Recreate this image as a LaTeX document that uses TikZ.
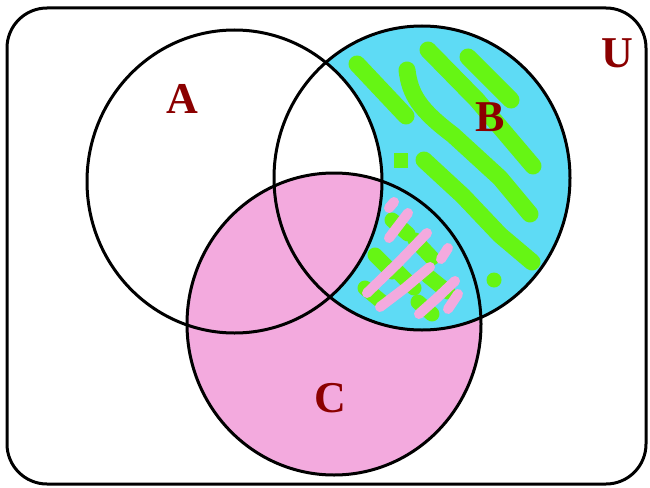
\documentclass[tikz,border=0pt]{standalone}
\usepackage{fontspec}
\setmainfont{Liberation Serif}
\definecolor{bcyan}{RGB}{94,219,245}
\definecolor{cpink}{RGB}{243,170,222}
\definecolor{sgreen}{RGB}{102,245,20}
\definecolor{lbl}{RGB}{139,0,0}
\begin{document}
\begin{tikzpicture}[x=1pt,y=-1pt,
  outline/.style={line width=3pt,draw=black},
  gstreak/.style={draw=sgreen,line width=17pt,line cap=round,line join=round},
  hgreen/.style={draw=sgreen,line width=15pt,line cap=round},
  pstreak/.style={draw=cpink,line width=10pt,line cap=round,line join=round},
  setlabel/.style={text=lbl,font=\fontsize{44}{44}\selectfont\bfseries,inner sep=0pt}]
\useasboundingbox (0,0) rectangle (650,487);
\coordinate (cA) at (234.5,181.5);
\coordinate (cB) at (422,178);
\coordinate (cC) at (334,324);
% C pink
\fill[cpink] (cC) ellipse [x radius=147pt, y radius=151pt];
% B cyan
\fill[bcyan] (cB) ellipse [x radius=148pt, y radius=152pt];
\begin{scope}
  \clip (cB) ellipse [x radius=148pt, y radius=152pt];
  % green streaks in B
  \draw[gstreak] (357,64) -- (406,116);
  \draw[gstreak] (407,70) .. controls (410,95) and (420,110) .. (453,135) -- (500,178) -- (530,214);
  \draw[gstreak] (428,50) -- (477,100) -- (533,166);
  \draw[gstreak] (468,57) -- (511,100);
  \draw[gstreak] (424,160) -- (463,196) -- (500,235) -- (532,262);
  \fill[sgreen] (394,153) rectangle (408,168);
  \fill[sgreen] (494,280) circle [radius=7.5pt];
  \begin{scope}
    \clip (cC) ellipse [x radius=147pt, y radius=151pt];
    % hatch: green blobs
    \draw[hgreen] (392,220) -- (408,234);
    \draw[hgreen] (415,240) -- (432,258);
    \draw[hgreen] (375,255) -- (392,272);
    \draw[hgreen] (396,270) -- (414,288);
    \draw[hgreen] (428,276) -- (448,292);
    \draw[hgreen] (365,288) -- (382,302);
    \draw[hgreen] (418,302) -- (432,314);
    % pink streaks
    \draw[pstreak] (389,208) -- (394,202);
    \draw[pstreak] (408,213) -- (389,238);
    \draw[pstreak] (427,233) -- (398,263) -- (367,293);
    \draw[pstreak] (448,248) -- (441,259);
    \draw[pstreak] (430,267) -- (405,288) -- (380,307);
    \draw[pstreak] (455,281) -- (437,298) -- (419,314);
    \draw[pstreak] (458,294) -- (448,309);
  \end{scope}
  % A inside B: white, with A∩B∩C pink
  \fill[white] (cA) ellipse [x radius=147.5pt, y radius=151.5pt];
  \clip (cA) ellipse [x radius=147.5pt, y radius=151.5pt];
  \fill[cpink] (cC) ellipse [x radius=147pt, y radius=151pt];
\end{scope}
% outlines
\draw[outline] (cA) ellipse [x radius=147.5pt, y radius=151.5pt];
\draw[outline] (cB) ellipse [x radius=148pt, y radius=152pt];
\draw[outline] (cC) ellipse [x radius=147pt, y radius=151pt];
\draw[outline, rounded corners=40pt] (7,8) rectangle (646,484);
% labels
\node[setlabel] (lA) at (182,99) {A};
\node[setlabel] (lB) at (490,117) {B};
\node[setlabel] (lC) at (330,398) {C};
\node[setlabel] (lU) at (617,53) {U};
\end{tikzpicture}
\end{document}
